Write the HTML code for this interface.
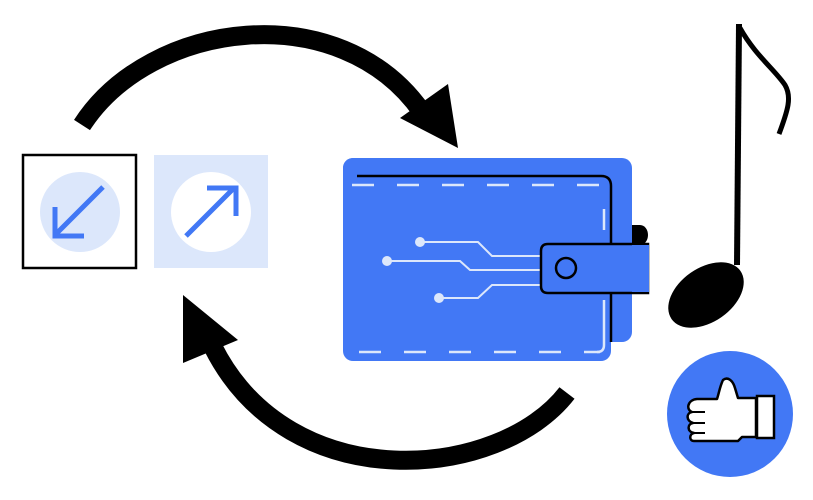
<!DOCTYPE html>
<html><head><meta charset="utf-8"><style>html,body{margin:0;padding:0;background:#fff}svg{display:block}</style></head>
<body>
<svg width="813" height="500" viewBox="0 0 813 500" xmlns="http://www.w3.org/2000/svg">
<!-- arrows -->
<path d="M82,125 C150,20 340,-5 422,112" fill="none" stroke="#000" stroke-width="19"/>
<polygon points="400,118 448,84 458,148" fill="#000"/>
<path d="M567,393 C500,480 290,500 213,347" fill="none" stroke="#000" stroke-width="19"/>
<polygon points="183,295 238,340 183,363" fill="#000"/>
<!-- box1 -->
<rect x="23" y="155" width="113" height="113" fill="#fff" stroke="#000" stroke-width="2.5"/>
<circle cx="80" cy="212" r="40" fill="#dce7fb"/>
<g stroke="#4278f5" stroke-width="5" fill="none">
<line x1="103" y1="187" x2="57" y2="233"/>
<polyline points="55,207 55,236 84,236"/>
</g>
<!-- box2 -->
<rect x="154" y="155" width="114" height="113" fill="#dce7fb"/>
<circle cx="211" cy="212" r="40" fill="#fff"/>
<g stroke="#4278f5" stroke-width="5" fill="none">
<line x1="186" y1="236" x2="234" y2="188"/>
<polyline points="207,188 236,188 236,216"/>
</g>
<!-- wallet -->
<rect x="343" y="158" width="289" height="184" rx="10" fill="#4278f5"/>
<rect x="343" y="158" width="268" height="203" rx="10" fill="#4278f5"/>
<path d="M357,176 H601 Q611,176 611,186 V342" fill="none" stroke="#000" stroke-width="2.5"/>
<g stroke="#dce7fb" stroke-width="2.5" fill="none" stroke-dasharray="22,23">
<line x1="352" y1="185" x2="605" y2="185"/>
<line x1="359" y1="352" x2="600" y2="352"/>
</g>
<g stroke="#dce7fb" stroke-width="2.5" fill="none">
<line x1="604" y1="209" x2="604" y2="230"/>
<path d="M604,300 V345 Q604,352 597,352"/>
</g>
<path d="M632,225 H640 A8,10 0 0 1 640,245 H632Z" fill="#000"/>
<g stroke="#dce7fb" stroke-width="2" fill="none">
<polyline points="420,242 478,242 492,256 540,256"/>
<polyline points="387,261 460,261 470,270 540,270"/>
<polyline points="439,298 478,298 492,285 540,285"/>
</g>
<g fill="#dce7fb"><circle cx="420" cy="242" r="5"/><circle cx="387" cy="261" r="5"/><circle cx="439" cy="298" r="5"/></g>
<path d="M632,244 H648 V293 H548 Q541,293 541,286 V251 Q541,244 548,244Z" fill="#4278f5" stroke="#000" stroke-width="2.5"/>
<rect x="632" y="245" width="17" height="47" fill="#4278f5"/>
<circle cx="566" cy="268" r="10" fill="none" stroke="#000" stroke-width="2.5"/>
<!-- note -->
<path d="M737,265 L739,24" stroke="#000" stroke-width="6" fill="none"/>
<path d="M740,28 C755,55 775,70 785,85 C792,97 788,110 779,134" stroke="#000" stroke-width="5" fill="none"/>
<ellipse cx="706" cy="295" rx="42" ry="27" transform="rotate(-35 706 295)" fill="#000"/>
<!-- thumbs up -->
<circle cx="730" cy="414" r="63" fill="#4278f5"/>
<path d="M697,399 H717 C719,393 720,386 723,380 C728,376 733,381 735,388 L738,398 H756 V437 H742 L738,441 H694 C689,441 689,434 694,433 C687,432 687,424 693,423 C686,421 686,413 692,412 C686,410 687,400 697,399Z" fill="#fff" stroke="#000" stroke-width="2.5" stroke-linejoin="round"/>
<rect x="757" y="396" width="17" height="42" fill="#fff" stroke="#000" stroke-width="2.5"/>
<g stroke="#000" stroke-width="2" fill="none"><line x1="692" y1="412" x2="705" y2="412"/><line x1="693" y1="423" x2="705" y2="423"/><line x1="694" y1="433" x2="705" y2="433"/></g>
</svg>
</body></html>
